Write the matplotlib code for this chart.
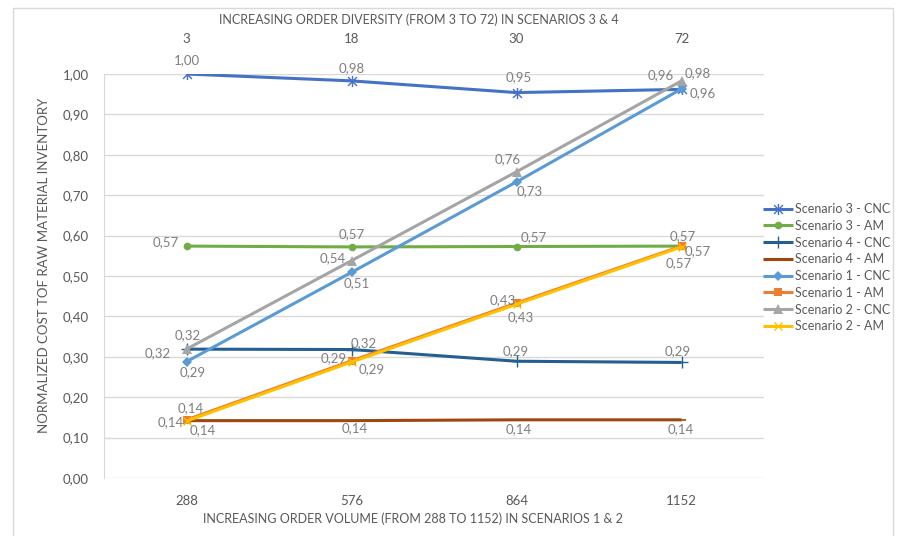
import matplotlib
matplotlib.use("Agg")
import matplotlib.pyplot as plt
from matplotlib.path import Path
from matplotlib.patches import Rectangle

# ---- data -------------------------------------------------------------
volume_ticks = ["288", "576", "864", "1152"]
diversity_ticks = ["3", "18", "30", "72"]

scen3_cnc = [1.000, 0.983, 0.954, 0.962]
scen3_am = [0.574, 0.572, 0.573, 0.574]
scen4_cnc = [0.319, 0.318, 0.289, 0.286]
scen4_am = [0.142, 0.142, 0.144, 0.144]
scen1_cnc = [0.288, 0.509, 0.733, 0.963]
scen1_am = [0.144, 0.290, 0.433, 0.574]
scen2_cnc = [0.319, 0.538, 0.758, 0.983]
scen2_am = [0.141, 0.287, 0.430, 0.572]

series_names = ["Scenario 3 - CNC", "Scenario 3 - AM", "Scenario 4 - CNC",
                "Scenario 4 - AM", "Scenario 1 - CNC", "Scenario 1 - AM",
                "Scenario 2 - CNC", "Scenario 2 - AM"]

# ---- styling ------------------------------------------------------------
FONT = ["Lato", "DejaVu Sans"]
NARROW = ["Liberation Sans Narrow", "Lato", "DejaVu Sans"]
plt.rcParams["font.family"] = FONT

# asterisk marker: vertical bar plus an x
star = Path([(0, -1), (0, 1), (-0.8, -0.8), (0.8, 0.8), (-0.8, 0.8), (0.8, -0.8)],
            [Path.MOVETO, Path.LINETO, Path.MOVETO, Path.LINETO, Path.MOVETO, Path.LINETO])

styles = [
    dict(color="#4472C4", marker=star, ms=8, mew=1.0),
    dict(color="#70AD47", marker="o", ms=5.5, mew=0),
    dict(color="#255E91", marker="+", ms=8, mew=1.0),
    dict(color="#9E480E", marker="_", ms=6, mew=1.2),
    dict(color="#5B9BD5", marker="D", ms=5, mew=0),
    dict(color="#ED7D31", marker="s", ms=6, mew=0),
    dict(color="#A5A5A5", marker="^", ms=7, mew=0),
    dict(color="#FFC000", marker="x", ms=6, mew=1.0),
]

# data-label offsets (pixels) for each point of each series
label_offsets = [
    [(0, 14), (0, 13), (2, 15), (-21, 14)],
    [(-21, 4), (0, 13), (17, 9), (1, 10)],
    [(-29, -4), (12, 6), (-1, 10), (-4, 11)],
    [(-16, -2), (3, -8), (2, -9), (-1, -9)],
    [(6, -11), (5, -11), (13, -9), (21, -4)],
    [(4, 12), (-18, 3), (-14, 3), (16, -5)],
    [(1, 14), (-19, 2), (-9, 13), (16, 8)],
    [(16, -9), (20, -7), (4, -13), (-3, -16)],
]

all_series = [scen3_cnc, scen3_am, scen4_cnc, scen4_am,
              scen1_cnc, scen1_am, scen2_cnc, scen2_am]

W, H = 899, 536
fig = plt.figure(figsize=(W / 100, H / 100), dpi=100)
ax = fig.add_axes([104 / W, 1 - 478 / H, (764 - 104) / W, (478 - 74) / H])

x = list(range(len(volume_ticks)))
handles = []
for name, vals, st in zip(series_names, all_series, styles):
    h, = ax.plot(x, vals, color=st["color"], lw=2.2, marker=st["marker"],
                 markersize=st["ms"], markeredgewidth=st["mew"],
                 markerfacecolor=st["color"], markeredgecolor=st["color"],
                 label=name, zorder=3, solid_capstyle="butt")
    handles.append(h)

for vals, offs in zip(all_series, label_offsets):
    for xi, v, (dx, dy) in zip(x, vals, offs):
        ax.annotate(f"{v:.2f}".replace(".", ","), (xi, v), xytext=(dx, dy),
                    textcoords="offset pixels", ha="center", va="center",
                    fontsize=9.5, color="#7F7F7F", zorder=4)

ax.set_xlim(-0.5, len(x) - 0.5)
ax.set_ylim(0, 1.0)
ax.set_yticks([i / 10 for i in range(11)])
ax.set_yticklabels([f"{i / 10:.2f}".replace(".", ",") for i in range(11)])
ax.set_xticks(x)
ax.set_xticklabels(volume_ticks)
ax.tick_params(axis="both", length=0, labelsize=9.5, labelcolor="#595959")
ax.tick_params(axis="y", pad=11)
ax.tick_params(axis="x", pad=12)
ax.grid(axis="y", color="#D9D9D9", lw=1.0, zorder=0)
ax.set_axisbelow(True)
for s in ["top", "right", "bottom"]:
    ax.spines[s].set_visible(False)
ax.spines["left"].set_color("#D9D9D9")

top = ax.twiny()
top.set_xlim(ax.get_xlim())
top.set_xticks(x)
top.set_xticklabels(diversity_ticks)
top.tick_params(axis="x", length=0, labelsize=9.5, labelcolor="#595959", pad=21)
for s in top.spines.values():
    s.set_visible(False)

fig.text(419 / W, 1 - 20 / H, "INCREASING ORDER DIVERSITY (FROM 3 TO 72) IN SCENARIOS 3 & 4",
         ha="center", va="center", fontsize=9, color="#595959", family=NARROW)
fig.text(413 / W, 1 - 519 / H, "INCREASING ORDER VOLUME (FROM 288 TO 1152) IN SCENARIOS 1 & 2",
         ha="center", va="center", fontsize=9, color="#595959", family=NARROW)
fig.text(44 / W, 1 - 265 / H, "NORMALIZED COST TOF RAW MATERIAL INVENTORY",
         ha="center", va="center", rotation=90, fontsize=9.5, color="#595959")

fig.legend(handles=handles, loc="upper left", bbox_to_anchor=(763 / W, 1 - 203 / H),
           frameon=False, fontsize=9, labelcolor="#595959", handlelength=2.4,
           handletextpad=0.15, labelspacing=0.38, borderpad=0, borderaxespad=0)

# light chart-area frame
fig.patches.append(Rectangle((13 / W, -0.05), (893 - 13) / W, 1.05 - 8 / H,
                             transform=fig.transFigure, fill=False,
                             edgecolor="#D9D9D9", lw=1.0))

fig.savefig("out.png", dpi=100)
